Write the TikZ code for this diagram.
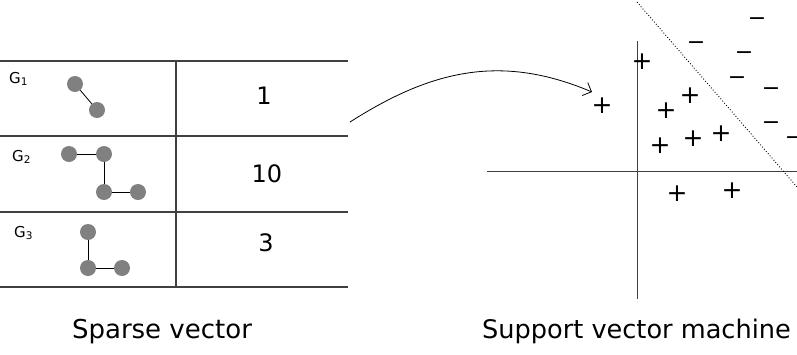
\documentclass[tikz,border=0pt]{standalone}
\usepackage{fontspec}
\setmainfont{DejaVu Sans}
\usetikzlibrary{arrows.meta}
\begin{document}
\begin{tikzpicture}[x=1pt,y=-1pt,
  tline/.style={draw=black!75,line width=1.2pt},
  gnode/.style={circle,fill=black!50,draw=none,minimum size=16pt,inner sep=0pt},
  gedge/.style={draw=black,line width=0.8pt},
  glabel/.style={anchor=base west,inner sep=0pt,font=\fontsize{15}{17}\selectfont},
  num/.style={inner sep=0pt,font=\fontsize{24}{28}\selectfont},
  captext/.style={anchor=base,inner sep=0pt,font=\fontsize{26}{30}\selectfont},
  pl/.style={inner sep=0pt,font=\fontsize{25}{30}\selectfont},
  mi/.style={anchor=base,inner sep=0pt,font=\fontsize{22}{26}\selectfont},
  axis/.style={draw=black!75,line width=1pt}]
\useasboundingbox (0,0) rectangle (797,354);
% table
\draw[tline] (0,61) -- (348,61);
\draw[tline] (0,136) -- (348,136);
\draw[tline] (0,212) -- (348,212);
\draw[tline] (0,287) -- (348,287);
\draw[tline] (176,60) -- (176,288);
% labels
\node[glabel] (g1) at (9,83) {G\textsubscript{1}};
\node[glabel] (g2) at (12,161) {G\textsubscript{2}};
\node[glabel] (g3) at (14,237) {G\textsubscript{3}};
% graphs
\node[gnode] (a1) at (75,84) {};
\node[gnode] (a2) at (97,110) {};
\draw[gedge] (a1) -- (a2);
\node[gnode] (b1) at (69,154) {};
\node[gnode] (b2) at (104,154) {};
\node[gnode] (b3) at (104,192) {};
\node[gnode] (b4) at (138,192) {};
\draw[gedge] (b1) -- (b2) (b2) -- (b3) (b3) -- (b4);
\node[gnode] (c1) at (88,232) {};
\node[gnode] (c2) at (88,268) {};
\node[gnode] (c3) at (122,268) {};
\draw[gedge] (c1) -- (c2) (c2) -- (c3);
% numbers
\node[num] (n1) at (264,95.5) {1};
\node[num] (n2) at (267,174) {10};
\node[num] (n3) at (266,242.5) {3};
% captions
\node[captext] (cap1) at (162,338) {Sparse vector};
\node[captext,font=\fontsize{25.6}{30}\selectfont] (cap2) at (636.5,338) {Support vector machine};
% arrow
\coordinate (as) at (350,122);
\coordinate (ae) at (592,92);
\draw[line width=0.8pt,-{Straight Barb[length=7pt,width=14pt]}] (as) .. controls (430,71) and (500,53) .. (ae);
% svm axes
\draw[axis] (637.5,41) -- (637.5,299);
\draw[axis] (487,171) -- (797,171);
\draw[dotted,line width=0.9pt] (637,2) -- (797,187);
% pluses
\foreach \i/\x/\y in {1/642/62,2/602/106,3/666/111,4/690/96,5/660/146,6/693/139,7/721/134,8/677/194,9/732/191}
  \node[pl] (p\i) at (\x,\y) {+};
% minuses
\foreach \i/\x/\y in {1/757/18,2/696/42,3/744/52,4/737/77,5/771/88,6/771/122,7/794/137}
  \node[mi] (m\i) at (\x,\y+7) {−};
\end{tikzpicture}
\end{document}
